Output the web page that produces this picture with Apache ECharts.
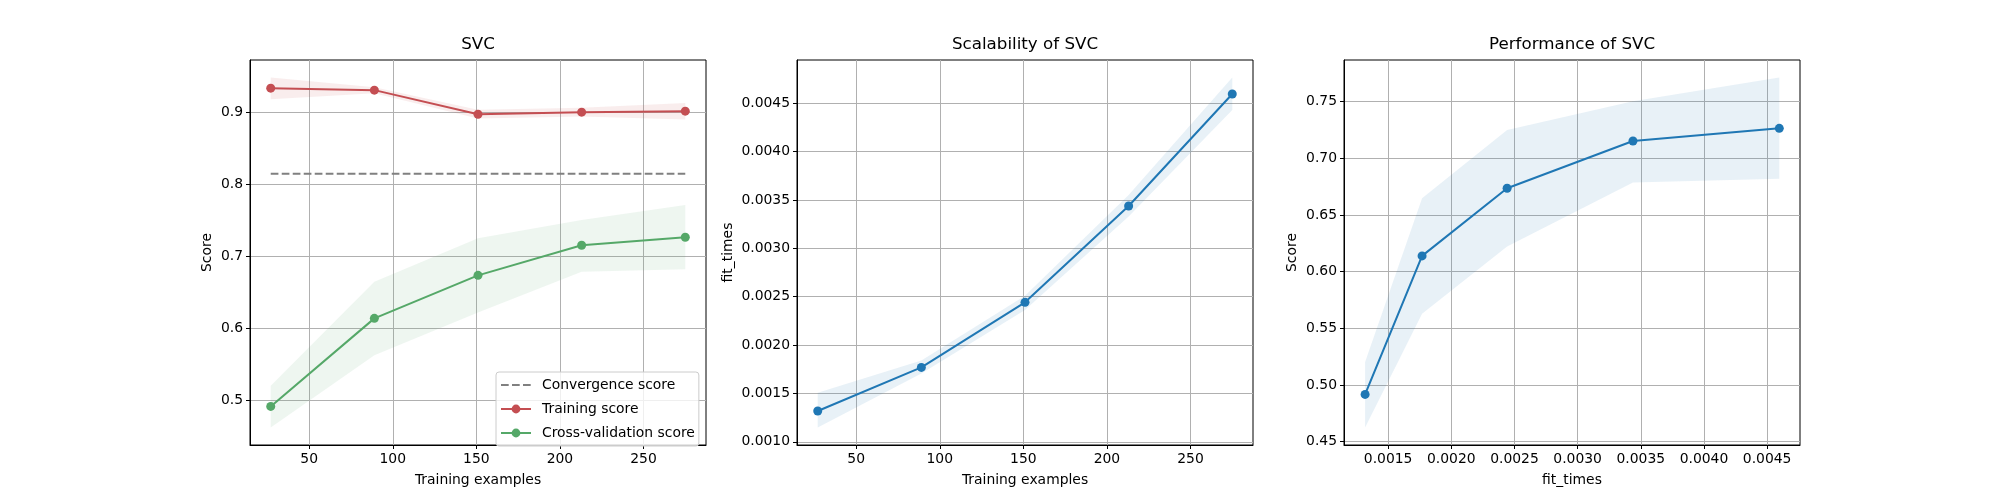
<!DOCTYPE html>
<html>
<head>
<meta charset="utf-8">
<script src="https://cdn.jsdelivr.net/npm/echarts@6/dist/echarts.min.js"></script>
<style>
html, body { margin: 0; padding: 0; background: #fff; }
#chart { width: 2000px; height: 500px; }
</style>
</head>
<body>
<div id="chart"></div>
<script>
// 训练集大小
const trainSizes = [27, 89, 151, 213, 275];

// 训练得分 (均值 / 下界 / 上界)
const trainMean = [0.9333, 0.9306, 0.8972, 0.9000, 0.9014];
const trainLow = [0.9180, 0.9262, 0.8912, 0.8940, 0.8900];
const trainHigh = [0.9481, 0.9345, 0.9032, 0.9060, 0.9128];

// 交叉验证得分
const cvMean = [0.4917, 0.6139, 0.6736, 0.7153, 0.7264];
const cvLow = [0.4625, 0.5629, 0.6222, 0.6786, 0.6819];
const cvHigh = [0.5203, 0.6647, 0.7250, 0.7504, 0.7713];

// 收敛线
const convergenceX = [27, 275];
const convergenceY = [0.8147, 0.8147];

// fit_times
const fitMean = [0.001318, 0.001769, 0.002442, 0.003438, 0.004596];
const fitLow = [0.001148, 0.001705, 0.002363, 0.003328, 0.004431];
const fitHigh = [0.001506, 0.001840, 0.002510, 0.003552, 0.004766];

// 刻度
const sizeTicks = [50, 100, 150, 200, 250];
const scoreTicks = [0.5, 0.6, 0.7, 0.8, 0.9];
const fitTicks = [0.0010, 0.0015, 0.0020, 0.0025, 0.0030, 0.0035, 0.0040, 0.0045];
const perfScoreTicks = [0.45, 0.50, 0.55, 0.60, 0.65, 0.70, 0.75];
const perfFitTicks = [0.0015, 0.0020, 0.0025, 0.0030, 0.0035, 0.0040, 0.0045];

const FONT = 'DejaVu Sans';
const RED = '#c44e52';
const GREEN = '#55a868';
const BLUE = '#1f77b4';

const chart = echarts.init(document.getElementById('chart'));

function axis(gi, min, max, ticks, digits, name, gap) {
    return {
        type: 'value',
        gridIndex: gi,
        min: min,
        max: max,
        name: name,
        nameLocation: 'middle',
        nameGap: gap,
        nameTextStyle: { color: '#000', fontSize: 13.9, fontFamily: FONT },
        axisLine: { show: true, lineStyle: { color: '#000', width: 1 } },
        axisTick: { show: true, inside: false, length: 4, lineStyle: { color: '#000', width: 1 }, customValues: ticks },
        axisLabel: {
            color: '#000', fontSize: 13.9, fontFamily: FONT, margin: 7,
            customValues: ticks,
            formatter: function (v) { return v.toFixed(digits) }
        },
        splitLine: { show: true, lineStyle: { color: '#b0b0b0', width: 1 } }
    }
}

// 阴影带
function band(xs, lo, hi, color, idx) {
    return {
        type: 'custom',
        xAxisIndex: idx,
        yAxisIndex: idx,
        silent: true,
        z: 1,
        data: xs.map(function (x, i) { return [x, lo[i], hi[i]] }),
        encode: { x: 0, y: [1, 2] },
        renderItem: function (params, api) {
            if (params.dataIndex !== 0) return null
            const top = xs.map(function (x, i) { return api.coord([x, hi[i]]) })
            const bottom = xs.map(function (x, i) { return api.coord([x, lo[i]]) }).reverse()
            return { type: 'polygon', shape: { points: top.concat(bottom) }, style: { fill: color } }
        }
    }
}

function line(name, xs, ys, color, idx) {
    return {
        name: name,
        type: 'line',
        xAxisIndex: idx,
        yAxisIndex: idx,
        z: 3,
        symbol: 'circle',
        symbolSize: 9,
        data: xs.map(function (x, i) { return [x, ys[i]] }),
        lineStyle: { color: color, width: 2 },
        itemStyle: { color: color }
    }
}

function title(text, x) {
    return {
        text: text, left: x, top: 36, textAlign: 'center', padding: 0,
        textStyle: { color: '#000', fontSize: 16.7, fontWeight: 'normal', fontFamily: FONT }
    }
}

const option = {
    animation: false,
    backgroundColor: '#fff',
    title: [title('SVC', 478), title('Scalability of SVC', 1025), title('Performance of SVC', 1572)],
    grid: [
        { left: 250, top: 60, width: 456, height: 385, show: true, borderColor: '#000', borderWidth: 1 },
        { left: 797, top: 60, width: 456, height: 385, show: true, borderColor: '#000', borderWidth: 1 },
        { left: 1344, top: 60, width: 456, height: 385, show: true, borderColor: '#000', borderWidth: 1 }
    ],
    xAxis: [
        axis(0, 14.6, 287.4, sizeTicks, 0, 'Training examples', 28),
        axis(1, 14.6, 287.4, sizeTicks, 0, 'Training examples', 28),
        axis(2, 0.001151, 0.004760, perfFitTicks, 4, 'fit_times', 28)
    ],
    yAxis: [
        axis(0, 0.4382, 0.9724, scoreTicks, 1, 'Score', 36),
        axis(1, 0.000967, 0.004947, fitTicks, 4, 'fit_times', 62),
        axis(2, 0.4471, 0.7867, perfScoreTicks, 2, 'Score', 45)
    ],
    legend: {
        left: 496,
        top: 372,
        orient: 'vertical',
        padding: [6, 4, 6, 4],
        itemWidth: 30,
        itemHeight: 11,
        itemGap: 10,
        backgroundColor: 'rgba(255,255,255,0.8)',
        borderColor: '#cccccc',
        borderWidth: 1,
        borderRadius: 3,
        textStyle: { color: '#000', fontSize: 13.9, fontFamily: FONT, padding: [0, 0, 0, 6] },
        data: [
            { name: 'Convergence score', itemStyle: { opacity: 0 } },
            'Training score',
            'Cross-validation score'
        ]
    },
    series: [
        band(trainSizes, trainLow, trainHigh, 'rgba(196,78,82,0.1)', 0),
        band(trainSizes, cvLow, cvHigh, 'rgba(85,168,104,0.1)', 0),
        {
            name: 'Convergence score',
            type: 'line',
            xAxisIndex: 0,
            yAxisIndex: 0,
            z: 2,
            symbol: 'none',
            data: convergenceX.map(function (x, i) { return [x, convergenceY[i]] }),
            lineStyle: { color: '#808080', width: 2, type: [7.7, 3.3] },
            itemStyle: { color: '#808080' }
        },
        line('Training score', trainSizes, trainMean, RED, 0),
        line('Cross-validation score', trainSizes, cvMean, GREEN, 0),
        band(trainSizes, fitLow, fitHigh, 'rgba(31,119,180,0.1)', 1),
        line('fit', trainSizes, fitMean, BLUE, 1),
        band(fitMean, cvLow, cvHigh, 'rgba(31,119,180,0.1)', 2),
        line('perf', fitMean, cvMean, BLUE, 2)
    ]
};
chart.setOption(option);
</script>
</body>
</html>
